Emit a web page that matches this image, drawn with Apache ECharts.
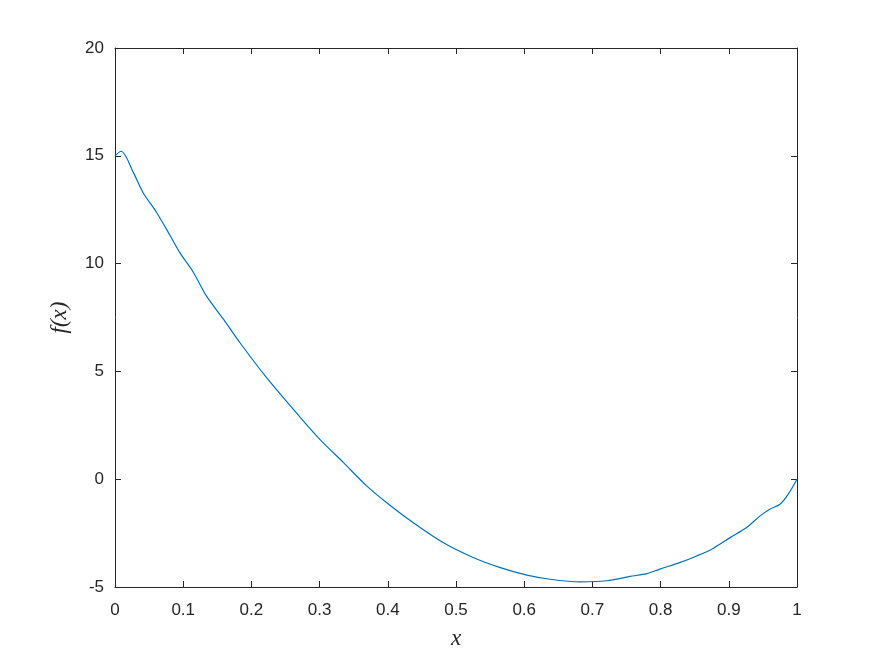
<!DOCTYPE html>
<html>
<head>
<meta charset="utf-8">
<script src="https://cdn.jsdelivr.net/npm/echarts@6/dist/echarts.min.js"></script>
<style>
  html, body { margin: 0; padding: 0; background: #fff; }
  #main { width: 880px; height: 660px; }
</style>
</head>
<body>
<div id="main"></div>
<script>
// curve samples
var xVals = [0, 0.009, 0.027, 0.041, 0.061, 0.081, 0.095, 0.115, 0.134, 0.159, 0.183, 0.222,
  0.271, 0.3, 0.335, 0.369, 0.398, 0.437, 0.481, 0.525, 0.565, 0.604, 0.638, 0.682, 0.721,
  0.755, 0.78, 0.799, 0.828, 0.853, 0.877, 0.902, 0.926, 0.946, 0.96, 0.975, 0.987, 1];
var fVals = [15.0, 15.21, 14.22, 13.3, 12.37, 11.29, 10.51, 9.59, 8.5, 7.42, 6.34, 4.72,
  2.89, 1.86, 0.77, -0.31, -1.08, -2.01, -2.94, -3.63, -4.1, -4.45, -4.64, -4.76, -4.71,
  -4.51, -4.38, -4.17, -3.87, -3.56, -3.21, -2.71, -2.24, -1.7, -1.39, -1.16, -0.7, 0];

var axisColor = "#262626";
var tickFont = { color: axisColor, fontSize: 17, fontFamily: "Liberation Sans" };
var nameFont = { fontFamily: "Liberation Serif", fontStyle: "italic", fontSize: 23, color: axisColor };

var chart = echarts.init(document.getElementById("main"));

// box axes (top / right) without labels
function boxAxis(pos, min, max, interval) {
  return {
    type: "value", position: pos, min: min, max: max, interval: interval,
    axisLine: { show: true, onZero: false, lineStyle: { color: axisColor, width: 1 } },
    axisTick: { show: true, inside: true, length: 6, lineStyle: { color: axisColor } },
    axisLabel: { show: false },
    splitLine: { show: false }
  };
}

var option = {
  animation: false,
  grid: { left: 115, right: 83, top: 48, bottom: 73 },
  xAxis: [
    {
      type: "value", min: 0, max: 1, interval: 0.1, position: "bottom",
      name: "x", nameLocation: "middle", nameGap: 40,
      nameTextStyle: nameFont,
      axisLine: { show: true, onZero: false, lineStyle: { color: axisColor, width: 1 } },
      axisTick: { show: true, inside: true, length: 6, lineStyle: { color: axisColor } },
      axisLabel: Object.assign({ margin: 15 }, tickFont),
      splitLine: { show: false }
    },
    boxAxis("top", 0, 1, 0.1)
  ],
  yAxis: [
    {
      type: "value", min: -5, max: 20, interval: 5, position: "left",
      name: "f(x)", nameLocation: "middle", nameGap: 44, nameRotate: 90,
      nameTextStyle: nameFont,
      axisLine: { show: true, onZero: false, lineStyle: { color: axisColor, width: 1 } },
      axisTick: { show: true, inside: true, length: 6, lineStyle: { color: axisColor } },
      axisLabel: Object.assign({ margin: 11, padding: [5, 0, 0, 0] }, tickFont),
      splitLine: { show: false }
    },
    boxAxis("right", -5, 20, 5)
  ],
  series: [
    {
      type: "line",
      data: xVals.map(function (x, i) { return [x, fVals[i]]; }),
      smooth: 0.3,
      showSymbol: false,
      lineStyle: { color: "#0072BD", width: 1.2 }
    }
  ]
};

chart.setOption(option);
</script>
</body>
</html>
